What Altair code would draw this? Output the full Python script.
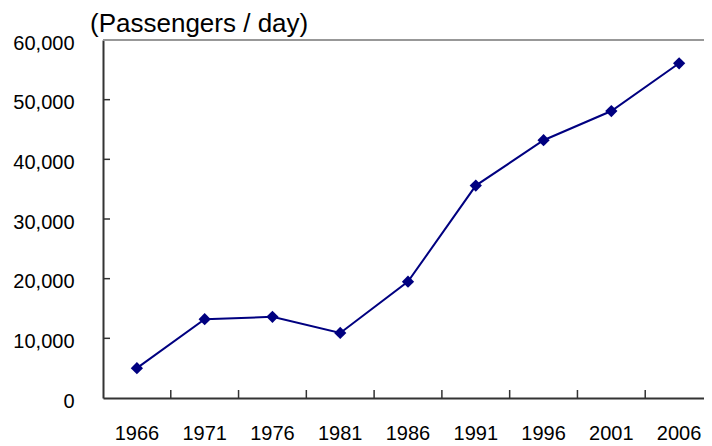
import altair as alt
import pandas as pd

years = ["1966", "1971", "1976", "1981", "1986", "1991", "1996", "2001", "2006"]
passengers = [5000, 13200, 13600, 10900, 19500, 35600, 43200, 48100, 56100]
y_ticks = [0, 10000, 20000, 30000, 40000, 50000, 60000]
inner_ticks = [10000, 20000, 30000, 40000, 50000]
title_text = "(Passengers / day)"

df = pd.DataFrame({"year": years, "passengers": passengers})
tick_df = pd.DataFrame({"passengers": inner_ticks})
xt_df = pd.DataFrame({"year": years[1:]})

W, H = 610, 358
FONT = "Liberation Sans"
NAVY = "#000080"
BAND = W / len(years)

xscale = alt.Scale(domain=years, paddingInner=0, paddingOuter=0)
yscale = alt.Scale(domain=[0, 60000])

xaxis = alt.Axis(title=None, labelAngle=0)
yaxis = alt.Axis(title=None, values=y_ticks, format=",d", grid=False)
xenc = alt.X("year:N", scale=xscale, sort=years, axis=xaxis)
yenc = alt.Y("passengers:Q", scale=yscale, axis=yaxis)

base = alt.Chart(df)

line = base.mark_line(color=NAVY, strokeWidth=2).encode(x=xenc, y=yenc)

points = base.mark_point(shape="diamond", filled=True, size=150, color=NAVY,
                         opacity=1).encode(x=xenc, y=yenc)

yticks = alt.Chart(tick_df).mark_rule(color="#333", strokeWidth=1.5).encode(
    y=yenc,
    x=alt.value(0),
    x2=alt.value(7),
)

xticks = alt.Chart(xt_df).mark_rule(color="#333", strokeWidth=1.5,
                                    xOffset=-BAND / 2).encode(
    x=xenc,
    y=alt.value(H),
    y2=alt.value(H - 8),
)

topline = alt.Chart(df).mark_rule(color="#999", strokeWidth=1.5).encode(
    x=alt.value(0), x2=alt.value(W), y=alt.value(0)
)

title = alt.Chart(pd.DataFrame({"t": [title_text]})).mark_text(
    align="left", baseline="alphabetic", font=FONT, fontSize=26,
    fontWeight="normal", fill="#000", strokeOpacity=0, strokeWidth=0,
).encode(text="t:N", x=alt.value(-13), y=alt.value(-8))

chart = alt.layer(line, points, topline, yticks, xticks, title).properties(
    width=W,
    height=H,
    autosize=alt.AutoSizeParams(type="none"),
    padding={"left": 95, "top": 32, "right": -9, "bottom": 48},
).configure_view(stroke=None).configure_axis(
    labelFont=FONT, labelFontSize=20, labelColor="#000",
    domainColor="#333", domainWidth=2, tickSize=0,
).configure_axisX(labelPadding=25).configure_axisY(labelPadding=29, labelOffset=3)

chart.save("out.html", embed_options={"renderer": "svg", "actions": False})
